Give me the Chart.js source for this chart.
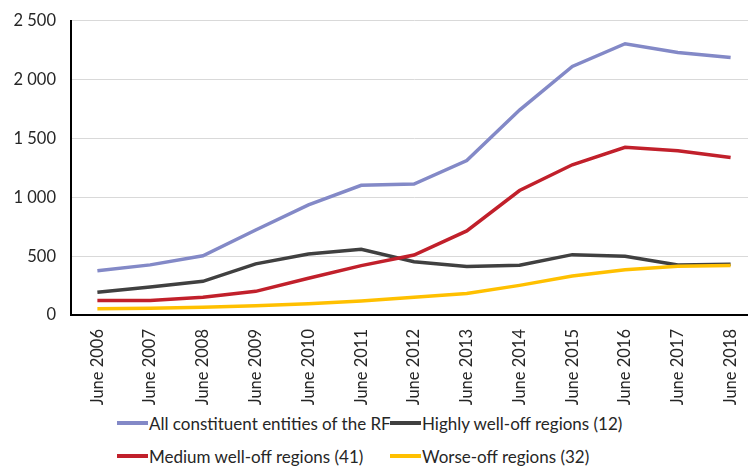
<!DOCTYPE html>
<html>
<head>
<meta charset="utf-8">
<script src="https://cdn.jsdelivr.net/npm/chart.js@4"></script>
<style>
  html, body { margin: 0; padding: 0; background: #fff; overflow: hidden; }
  #wrap { position: relative; width: 748px; height: 466px; overflow: hidden; font-family: Lato, "Liberation Sans", sans-serif; }
  #box { position: absolute; left: 0; top: -4px; width: 757px; height: 409px; }
  .leg { position: absolute; display: flex; align-items: center; font-size: 17px; color: #262626; white-space: nowrap; }
  .leg span.sw { display: inline-block; width: 31px; height: 4px; margin-right: 1px; }
</style>
</head>
<body>
<div id="wrap">
  <div id="box"><canvas id="regions-chart-id"></canvas></div>
  <div id="legend-id"></div>
</div>
<script>
// categories + series
const years = ['June 2006', 'June 2007', 'June 2008', 'June 2009', 'June 2010', 'June 2011', 'June 2012',
               'June 2013', 'June 2014', 'June 2015', 'June 2016', 'June 2017', 'June 2018'];
const allRF  = [376, 426, 503, 723, 936, 1102, 1113, 1313, 1742, 2113, 2306, 2231, 2189];
const highly = [193, 238, 286, 435, 519, 559, 452, 412, 423, 513, 500, 426, 432];
const medium = [123, 123, 151, 201, 312, 420, 510, 715, 1058, 1277, 1425, 1397, 1338];
const worse  = [54, 57, 66, 79, 95, 120, 150, 182, 252, 331, 385, 415, 421];
const yTicks = [0, 500, 1000, 1500, 2000, 2500];

const seriesNames  = ['All constituent entities of the RF', 'Highly well-off regions (12)',
                      'Medium well-off regions (41)', 'Worse-off regions (32)'];
const seriesColors = ['#8389c7', '#404040', '#c1202b', '#ffc000'];

const fontFam = 'Lato, "Liberation Sans", sans-serif';
const txt = '#262626';

function spaced(v) {
  return String(v).replace(/\B(?=(\d{3})+(?!\d))/g, ' ');
}

const seriesData = [allRF, highly, medium, worse];

const ctx = document.getElementById('regions-chart-id');
new Chart(ctx, {
  type: 'line',
  data: {
    labels: years,
    datasets: seriesData.map((d, i) => ({
      label: seriesNames[i],
      data: d,
      borderColor: seriesColors[i],
      backgroundColor: seriesColors[i],
      borderWidth: 3.5,
      pointRadius: 0,
      tension: 0,
      fill: false,
      order: 4 - i // later series on top, like the original
    }))
  },
  options: {
    responsive: true,
    maintainAspectRatio: false,
    animation: false,
    layout: { padding: { top: 4, right: 0, bottom: 0, left: 0 } },
    plugins: {
      legend: { display: false },
      tooltip: { enabled: false }
    },
    scales: {
      x: {
        offset: true,
        grid: { display: false },
        border: { color: '#000', width: 2 },
        ticks: {
          color: txt,
          font: { family: fontFam, size: 16.5 },
          minRotation: 90,
          maxRotation: 90,
          padding: 6,
          autoSkip: false
        },
        afterFit: (scale) => { scale.height = 90; }
      },
      y: {
        min: 0,
        max: 2500,
        afterBuildTicks: (scale) => { scale.ticks = yTicks.map(v => ({ value: v })); },
        grid: { color: '#d9d9d9', lineWidth: 1, drawTicks: false },
        border: { color: '#000', width: 2 },
        ticks: {
          color: txt,
          font: { family: fontFam, size: 16.5 },
          padding: 15,
          callback: (value) => spaced(value)
        },
        afterFit: (scale) => { scale.width = 71; }
      }
    }
  }
});

// legend laid out in two columns like the original
const legendBox = document.getElementById('legend-id');
const legPos = [[117, 423], [390, 423], [117, 456], [390, 456]];
seriesNames.forEach((name, i) => {
  const el = document.createElement('div');
  el.className = 'leg';
  el.style.left = legPos[i][0] + 'px';
  el.style.top = (legPos[i][1] - 10) + 'px';
  el.style.height = '20px';
  el.innerHTML = `<span class="sw" style="background:${seriesColors[i]}"></span>${name}`;
  legendBox.appendChild(el);
});
</script>
</body>
</html>
